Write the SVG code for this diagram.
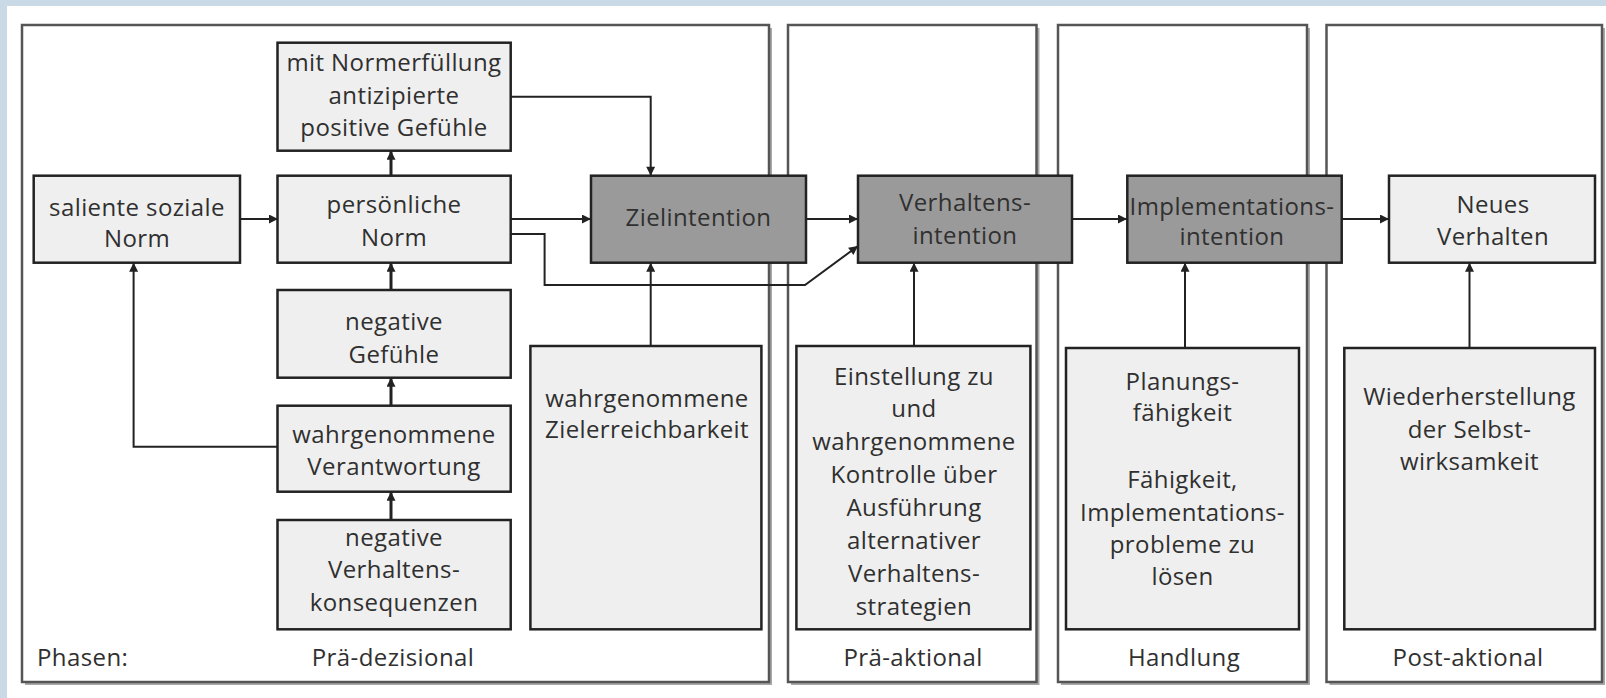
<svg xmlns="http://www.w3.org/2000/svg" width="1606" height="698" viewBox="0 0 1606 698">
  <style>
    .bg { fill: #c9d9e6; }
    .sheet { fill: #ffffff; }
    .panel { fill: #ffffff; stroke: #555555; stroke-width: 2.5; }
    .shadow { fill: #a8a8a8; }
    .box { fill: #efefef; stroke: #222222; stroke-width: 2.5; }
    .dark { fill: #9a9a9a; stroke: #222222; stroke-width: 2.5; }
    .t { font-family: "Open Sans", "Noto Sans", sans-serif; font-size: 24px; fill: #303030; text-anchor: middle; letter-spacing: 0.4px; }
    .ph { font-family: "Open Sans", "Noto Sans", sans-serif; font-size: 24px; fill: #303030; letter-spacing: 0.4px; }
    .c { fill: none; stroke: #222222; stroke-width: 2; }
    .cs { fill: none; stroke: #222222; stroke-width: 3; }
  </style>
  <defs>
    <marker id="arr" viewBox="0 0 10 10" refX="10" refY="5" markerWidth="10" markerHeight="9" markerUnits="userSpaceOnUse" orient="auto">
      <path d="M0,0 L10,5 L0,10 z" fill="#222222"/>
    </marker>
  </defs>

  <!-- page background -->
  <rect class="bg" x="0" y="0" width="1606" height="698"/>
  <rect class="sheet" x="7" y="6" width="1599" height="692"/>

  <!-- phase panels -->
  <g id="phases">
    <rect class="shadow" x="25" y="28" width="747" height="657"/>
    <rect class="shadow" x="791" y="28" width="248.5" height="657"/>
    <rect class="shadow" x="1061" y="28" width="249" height="657"/>
    <rect class="shadow" x="1329.5" y="28" width="275.5" height="657"/>
    <rect class="panel" x="22" y="25" width="747" height="657"/>
    <rect class="panel" x="788" y="25" width="248.5" height="657"/>
    <rect class="panel" x="1058" y="25" width="249" height="657"/>
    <rect class="panel" x="1326.5" y="25" width="275.5" height="657"/>
    <text class="ph" x="37" y="666">Phasen:</text>
    <text class="t" x="393" y="666">Prä-dezisional</text>
    <text class="t" x="913" y="666">Prä-aktional</text>
    <text class="t" x="1184" y="666">Handlung</text>
    <text class="t" x="1468" y="666">Post-aktional</text>
  </g>

  <!-- connectors -->
  <g id="connectors">
    <path class="c" d="M510.7,96.7 H650.7 V175.7" marker-end="url(#arr)"/>
    <path class="c" d="M240,219 H278" marker-end="url(#arr)"/>
    <path class="c" d="M510.7,219 H591" marker-end="url(#arr)"/>
    <path class="c" d="M510.7,234 H544.6 V285 H805 L858,246" marker-end="url(#arr)"/>
    <path class="c" d="M806,219 H858" marker-end="url(#arr)"/>
    <path class="c" d="M1072,219 H1127" marker-end="url(#arr)"/>
    <path class="c" d="M1342,219 H1389" marker-end="url(#arr)"/>
    <path class="c" d="M278,446.7 H133.6 V262.7" marker-end="url(#arr)"/>
    <path class="cs" d="M391,175.7 V150.7" marker-end="url(#arr)"/>
    <path class="cs" d="M391,290 V262.7" marker-end="url(#arr)"/>
    <path class="cs" d="M391,405.7 V377.7" marker-end="url(#arr)"/>
    <path class="cs" d="M391,520 V491.7" marker-end="url(#arr)"/>
    <path class="c" d="M650.7,346 V262.7" marker-end="url(#arr)"/>
    <path class="c" d="M914,346 V262.7" marker-end="url(#arr)"/>
    <path class="c" d="M1185,348 V262.7" marker-end="url(#arr)"/>
    <path class="c" d="M1469.5,348 V262.7" marker-end="url(#arr)"/>
  </g>

  <!-- nodes -->
  <g id="antizipierte-gefuehle">
    <rect class="box" x="277.5" y="42.7" width="233.2" height="108"/>
    <text class="t" x="394" y="71">mit Normerfüllung</text>
    <text class="t" x="394" y="104">antizipierte</text>
    <text class="t" x="394" y="136">positive Gefühle</text>
  </g>
  <g id="saliente-norm">
    <rect class="box" x="33.7" y="175.7" width="206.3" height="87"/>
    <text class="t" x="137" y="216">saliente soziale</text>
    <text class="t" x="137" y="247">Norm</text>
  </g>
  <g id="persoenliche-norm">
    <rect class="box" x="277.5" y="175.7" width="233.2" height="87"/>
    <text class="t" x="394" y="213">persönliche</text>
    <text class="t" x="394" y="246">Norm</text>
  </g>
  <g id="negative-gefuehle">
    <rect class="box" x="277.5" y="290" width="233.2" height="87.7"/>
    <text class="t" x="394" y="330">negative</text>
    <text class="t" x="394" y="363">Gefühle</text>
  </g>
  <g id="verantwortung">
    <rect class="box" x="277.5" y="405.7" width="233.2" height="86"/>
    <text class="t" x="394" y="443">wahrgenommene</text>
    <text class="t" x="394" y="475">Verantwortung</text>
  </g>
  <g id="konsequenzen">
    <rect class="box" x="277.5" y="520" width="233.2" height="109.3"/>
    <text class="t" x="394" y="546">negative</text>
    <text class="t" x="394" y="578">Verhaltens-</text>
    <text class="t" x="394" y="611">konsequenzen</text>
  </g>
  <g id="zielintention">
    <rect class="dark" x="591" y="175.7" width="215" height="87"/>
    <text class="t" x="698.5" y="226">Zielintention</text>
  </g>
  <g id="verhaltensintention">
    <rect class="dark" x="858" y="175.7" width="214" height="87"/>
    <text class="t" x="965" y="211">Verhaltens-</text>
    <text class="t" x="965" y="244">intention</text>
  </g>
  <g id="implementationsintention">
    <rect class="dark" x="1127.3" y="175.7" width="214.4" height="87"/>
    <text class="t" x="1232" y="215">Implementations-</text>
    <text class="t" x="1232" y="245">intention</text>
  </g>
  <g id="neues-verhalten">
    <rect class="box" x="1389" y="175.7" width="206" height="87"/>
    <text class="t" x="1493" y="213">Neues</text>
    <text class="t" x="1493" y="245">Verhalten</text>
  </g>
  <g id="zielerreichbarkeit">
    <rect class="box" x="530.4" y="346" width="231" height="283.3"/>
    <text class="t" x="647" y="407">wahrgenommene</text>
    <text class="t" x="647" y="438">Zielerreichbarkeit</text>
  </g>
  <g id="einstellung">
    <rect class="box" x="796.4" y="346" width="234" height="283.3"/>
    <text class="t" x="914" y="385">Einstellung zu</text>
    <text class="t" x="914" y="417">und</text>
    <text class="t" x="914" y="450">wahrgenommene</text>
    <text class="t" x="914" y="483">Kontrolle über</text>
    <text class="t" x="914" y="516">Ausführung</text>
    <text class="t" x="914" y="549">alternativer</text>
    <text class="t" x="914" y="582">Verhaltens-</text>
    <text class="t" x="914" y="615">strategien</text>
  </g>
  <g id="planungsfaehigkeit">
    <rect class="box" x="1066" y="348" width="233" height="281.3"/>
    <text class="t" x="1182.5" y="390">Planungs-</text>
    <text class="t" x="1182.5" y="421">fähigkeit</text>
    <text class="t" x="1182.5" y="488">Fähigkeit,</text>
    <text class="t" x="1182.5" y="521">Implementations-</text>
    <text class="t" x="1182.5" y="553">probleme zu</text>
    <text class="t" x="1182.5" y="585">lösen</text>
  </g>
  <g id="selbstwirksamkeit">
    <rect class="box" x="1344.3" y="348" width="250.7" height="281.3"/>
    <text class="t" x="1469.5" y="405">Wiederherstellung</text>
    <text class="t" x="1469.5" y="438">der Selbst-</text>
    <text class="t" x="1469.5" y="470">wirksamkeit</text>
  </g>
</svg>
